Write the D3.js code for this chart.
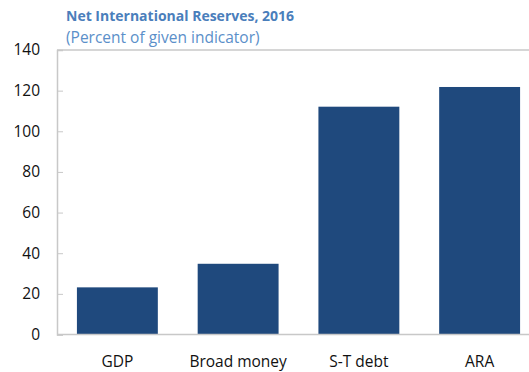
<!DOCTYPE html>
<html>
<head>
<meta charset="utf-8">
<script src="https://cdn.jsdelivr.net/npm/d3@7"></script>
<style>
  html, body { margin: 0; padding: 0; background: #fff; }
  svg { display: block; font-family: "Open Sans", "Noto Sans", sans-serif; }
</style>
</head>
<body>
<svg id="chart" width="529" height="372"></svg>
<script>
// Net international reserves as a percent of each indicator
const categories = ["GDP", "Broad money", "S-T debt", "ARA"];
const values = [23.2, 34.8, 112.1, 121.8];
const yTicks = [0, 20, 40, 60, 80, 100, 120, 140];
const title = "Net International Reserves, 2016";
const subtitle = "(Percent of given indicator)";

const svg = d3.select("#chart");
const plot = { left: 57, right: 540, top: 50, bottom: 334.5 };

const x = d3.scaleBand()
  .domain(categories)
  .range([plot.left, plot.right])
  .paddingInner(0.33)
  .paddingOuter(0.165);

const y = d3.scaleLinear()
  .domain([0, 140])
  .range([plot.bottom, plot.top]);

// Titles
svg.append("text")
  .attr("x", 66).attr("y", 20.5)
  .attr("fill", "#4a7ebb")
  .attr("font-weight", "bold")
  .attr("font-size", 14)
  .text(title);
svg.append("text")
  .attr("x", 66).attr("y", 43)
  .attr("fill", "#5b8fc9")
  .attr("font-size", 15.5)
  .text(subtitle);

// Top frame line
svg.append("line")
  .attr("x1", plot.left).attr("x2", 529)
  .attr("y1", y(140)).attr("y2", y(140))
  .attr("stroke", "#c8c8c8").attr("stroke-width", 1.5);

// Bars
svg.append("g").selectAll("rect")
  .data(categories)
  .join("rect")
  .attr("x", d => x(d))
  .attr("width", x.bandwidth())
  .attr("y", (d, i) => y(values[i]))
  .attr("height", (d, i) => y(0) - y(values[i]))
  .attr("fill", "#1f497d");

// Y axis with short inward ticks
const yAxis = svg.append("g")
  .attr("transform", `translate(${plot.left},0)`)
  .call(d3.axisRight(y).tickValues(yTicks).tickSize(6).tickFormat(d3.format("d")));
yAxis.select(".domain").attr("stroke", "#c8c8c8").attr("stroke-width", 1.5);
yAxis.selectAll(".tick line").attr("stroke", "#c8c8c8");
yAxis.selectAll(".tick text")
  .attr("x", -17)
  .attr("text-anchor", "end")
  .attr("fill", "#111")
  .attr("font-size", 15.5)
  .attr("font-family", "'Open Sans', 'Noto Sans', sans-serif");

// X axis line and category labels
svg.append("line")
  .attr("x1", plot.left).attr("x2", 529)
  .attr("y1", y(0)).attr("y2", y(0))
  .attr("stroke", "#c8c8c8").attr("stroke-width", 1.5);

svg.append("g").selectAll("text")
  .data(categories)
  .join("text")
  .attr("x", d => x(d) + x.bandwidth() / 2)
  .attr("y", 366.5)
  .attr("text-anchor", "middle")
  .attr("fill", "#111")
  .attr("font-size", 15.5)
  .text(d => d);
</script>
</body>
</html>
